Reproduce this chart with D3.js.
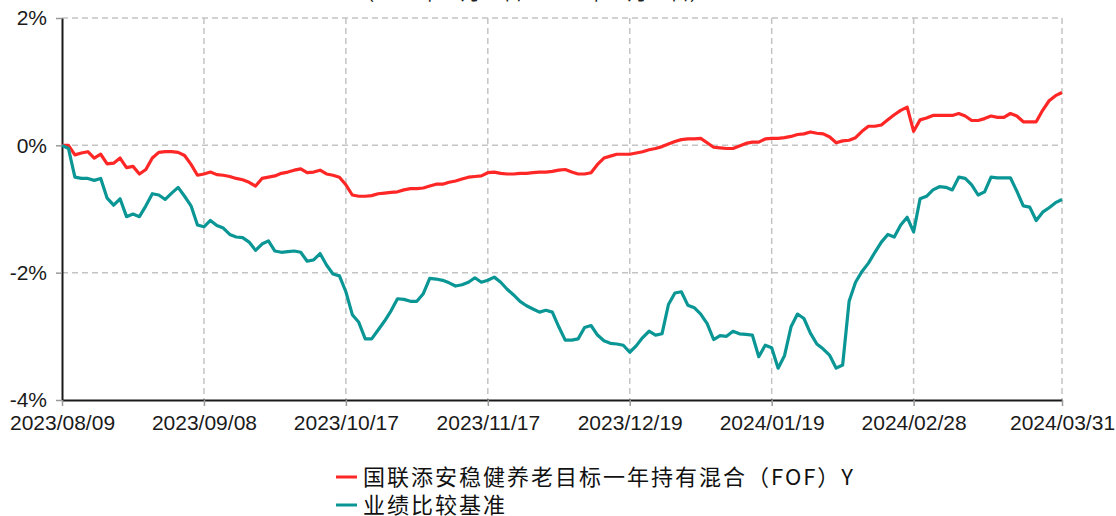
<!DOCTYPE html>
<html>
<head>
<meta charset="utf-8">
<script src="https://cdn.jsdelivr.net/npm/d3@7"></script>
<style>
  body { margin: 0; background: #fff; }
  svg { display: block; }
</style>
</head>
<body>
<div id="chart"></div>
<script>
// tick labels and the trading-day index each one sits on
const tickLabels = ["2023/08/09", "2023/09/08", "2023/10/17", "2023/11/17", "2023/12/19", "2024/01/19", "2024/02/28", "2024/03/31"];
const tickIndex = [0, 22, 44, 66, 88, 110, 132, 155];
const yTicks = [2, 0, -2, -4];

const seriesNames = ["国联添安稳健养老目标一年持有混合（FOF）Y", "业绩比较基准"];
const seriesColors = ["#ff2626", "#0b9696"];

// cumulative return (%) per trading day
const fundValues = [
  0.00, 0.00, -0.15, -0.12, -0.10, -0.20, -0.14, -0.29, -0.28, -0.20,
  -0.35, -0.33, -0.45, -0.38, -0.20, -0.11, -0.10, -0.10, -0.11, -0.16,
  -0.30, -0.47, -0.45, -0.42, -0.46, -0.47, -0.49, -0.52, -0.54, -0.58,
  -0.64, -0.52, -0.50, -0.48, -0.44, -0.42, -0.39, -0.37, -0.43, -0.42,
  -0.39, -0.45, -0.47, -0.50, -0.62, -0.78, -0.80, -0.80, -0.79, -0.76,
  -0.75, -0.74, -0.73, -0.70, -0.68, -0.68, -0.67, -0.64, -0.61, -0.61,
  -0.58, -0.56, -0.53, -0.50, -0.49, -0.48, -0.43, -0.42, -0.44, -0.45,
  -0.45, -0.44, -0.44, -0.43, -0.42, -0.42, -0.41, -0.39, -0.38, -0.42,
  -0.45, -0.45, -0.43, -0.30, -0.20, -0.17, -0.14, -0.14, -0.14, -0.12,
  -0.10, -0.07, -0.05, -0.02, 0.02, 0.06, 0.09, 0.10, 0.10, 0.11,
  0.04, -0.03, -0.04, -0.05, -0.05, -0.01, 0.03, 0.05, 0.05, 0.10,
  0.11, 0.11, 0.12, 0.14, 0.17, 0.18, 0.21, 0.19, 0.18, 0.13,
  0.04, 0.07, 0.08, 0.12, 0.22, 0.30, 0.30, 0.32, 0.40, 0.48,
  0.55, 0.60, 0.22, 0.40, 0.43, 0.47, 0.47, 0.47, 0.47, 0.50,
  0.46, 0.39, 0.39, 0.42, 0.46, 0.44, 0.44, 0.50, 0.46, 0.37,
  0.37, 0.37, 0.55, 0.70, 0.78, 0.83
];

const benchValues = [
  0.00, -0.05, -0.50, -0.52, -0.52, -0.55, -0.52, -0.83, -0.94, -0.84,
  -1.12, -1.08, -1.12, -0.95, -0.76, -0.78, -0.85, -0.75, -0.66, -0.80,
  -0.95, -1.25, -1.28, -1.18, -1.26, -1.30, -1.40, -1.44, -1.45, -1.52,
  -1.65, -1.55, -1.50, -1.66, -1.68, -1.67, -1.66, -1.68, -1.82, -1.80,
  -1.70, -1.88, -2.02, -2.05, -2.30, -2.66, -2.78, -3.04, -3.04, -2.90,
  -2.76, -2.60, -2.41, -2.42, -2.45, -2.45, -2.33, -2.09, -2.10, -2.12,
  -2.16, -2.21, -2.19, -2.15, -2.08, -2.15, -2.12, -2.07, -2.15, -2.26,
  -2.35, -2.45, -2.52, -2.57, -2.62, -2.59, -2.62, -2.85, -3.06, -3.06,
  -3.04, -2.86, -2.83, -2.98, -3.07, -3.11, -3.12, -3.14, -3.25, -3.15,
  -3.02, -2.92, -2.98, -2.96, -2.50, -2.32, -2.30, -2.51, -2.55, -2.65,
  -2.80, -3.05, -2.99, -3.00, -2.92, -2.96, -2.97, -2.98, -3.32, -3.14,
  -3.18, -3.50, -3.30, -2.85, -2.65, -2.72, -2.95, -3.12, -3.20, -3.30,
  -3.50, -3.45, -2.45, -2.15, -1.98, -1.85, -1.68, -1.52, -1.40, -1.44,
  -1.25, -1.13, -1.36, -0.84, -0.80, -0.70, -0.65, -0.66, -0.70, -0.50,
  -0.52, -0.62, -0.78, -0.73, -0.50, -0.51, -0.51, -0.51, -0.72, -0.95,
  -0.97, -1.18, -1.05, -0.98, -0.90, -0.85
];

const width = 1116, height = 516;
const margin = {top: 18, right: 54, bottom: 116, left: 62};

const svg = d3.select("#chart").append("svg")
    .attr("width", width)
    .attr("height", height);

const x = d3.scaleLinear()
    .domain([0, fundValues.length - 1])
    .range([margin.left, width - margin.right]);

const y = d3.scaleLinear()
    .domain([-4, 2])
    .range([height - margin.bottom, margin.top]);

// title, mostly cut off by the top edge
svg.append("text")
    .attr("x", 532)
    .attr("y", 0)
    .attr("text-anchor", "middle")
    .attr("font-family", "'Noto Sans CJK SC', sans-serif")
    .attr("font-size", 20)
    .attr("fill", "#222")
    .text("（2023年08月09日—2024年03月31日）");

// dashed grid
const grid = svg.append("g")
    .attr("stroke", "#c4c4c4")
    .attr("stroke-width", 1.5)
    .attr("stroke-dasharray", "6,4");

grid.selectAll("line.h")
  .data(yTicks.filter(d => d !== -4))
  .join("line")
    .attr("class", "h")
    .attr("x1", margin.left)
    .attr("x2", width - margin.right)
    .attr("y1", d => y(d))
    .attr("y2", d => y(d));

grid.selectAll("line.v")
  .data(tickIndex.slice(1))
  .join("line")
    .attr("class", "v")
    .attr("x1", d => x(d))
    .attr("x2", d => x(d))
    .attr("y1", margin.top)
    .attr("y2", height - margin.bottom);

// axes
const yAxis = svg.append("g")
    .attr("transform", `translate(${margin.left},0)`)
    .call(d3.axisLeft(y).tickValues(yTicks).tickSize(6).tickSizeOuter(0).tickPadding(9).tickFormat(d => d + "%"));

const xAxis = svg.append("g")
    .attr("transform", `translate(0,${height - margin.bottom})`)
    .call(d3.axisBottom(x).tickValues(tickIndex).tickSize(6).tickSizeOuter(0).tickPadding(9).tickFormat((d, i) => tickLabels[i]));

[yAxis, xAxis].forEach(ax => {
  ax.select(".domain").attr("stroke", "#1a1a1a").attr("stroke-width", 2);
  ax.selectAll(".tick line").attr("stroke", "#999").attr("stroke-width", 1.5);
  ax.selectAll(".tick text")
      .attr("fill", "#1a1a1a")
      .attr("font-family", "'Liberation Sans', Arial, sans-serif")
      .attr("font-size", 21);
});

// series lines
const line = d3.line()
    .x((d, i) => x(i))
    .y(d => y(d));

svg.selectAll("path.series")
  .data([fundValues, benchValues])
  .join("path")
    .attr("class", "series")
    .attr("fill", "none")
    .attr("stroke", (d, i) => seriesColors[i])
    .attr("stroke-width", 3.2)
    .attr("stroke-linejoin", "round")
    .attr("d", line);

// legend
const legend = svg.append("g")
    .attr("transform", "translate(336,477)");

const item = legend.selectAll("g")
  .data(seriesNames)
  .join("g")
    .attr("transform", (d, i) => `translate(0,${i * 28})`);

item.append("line")
    .attr("x1", 0)
    .attr("x2", 21)
    .attr("stroke", (d, i) => seriesColors[i])
    .attr("stroke-width", 3);

item.append("text")
    .attr("x", 27)
    .attr("dy", "0.36em")
    .attr("font-family", "'Noto Sans CJK SC', sans-serif")
    .attr("font-size", 22)
    .attr("letter-spacing", 2)
    .attr("fill", "#111")
    .text(d => d);
</script>
</body>
</html>
